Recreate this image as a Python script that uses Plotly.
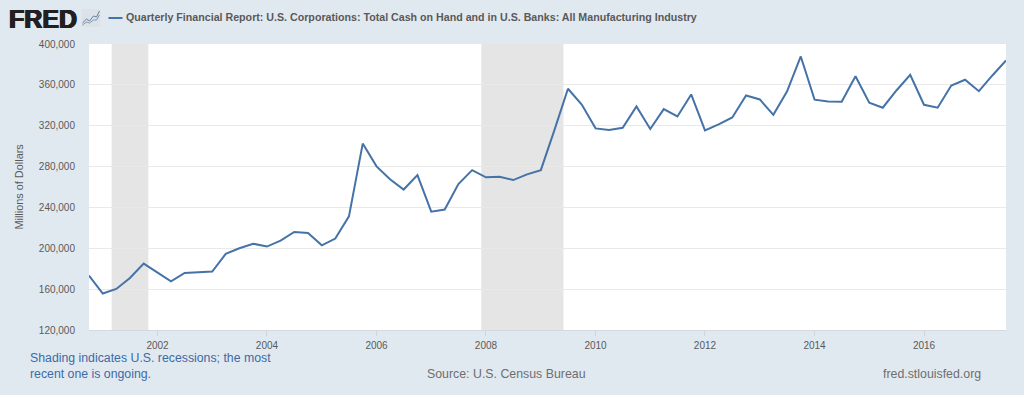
import plotly.graph_objects as go
import pandas as pd

W, H = 1024, 395
L, R, T, B = 88.5, 1006.5, 44, 330

quarters = pd.date_range("2000-10-01", periods=68, freq="QS").strftime("%Y-%m-%d").tolist()
cash = [173300, 155700, 160200, 171000, 185000, 176500, 167700, 175900, 176900, 177200,
        194500, 200000, 204500, 201700, 207500, 216000, 215000, 202900, 209500, 231300,
        302500, 280200, 267500, 257500, 271700, 235900, 237900, 262900, 276500, 269500,
        270100, 266800, 272400, 276500, 315500, 356200, 340800, 317400, 315700, 318000,
        338900, 316800, 336300, 329100, 350600, 315500, 321300, 328100, 349600, 345700,
        330700, 353500, 387800, 345500, 343800, 343500, 368500, 342500, 337600, 354500,
        369900, 340500, 337600, 359400, 365000, 353800, 369200, 383900]
recessions = [("2001-03-01", "2001-11-01"), ("2007-12-01", "2009-06-01")]
x_ticks = ["2002-01-01", "2004-01-01", "2006-01-01", "2008-01-01",
           "2010-01-01", "2012-01-01", "2014-01-01", "2016-01-01"]
x_labels = ["2002", "2004", "2006", "2008", "2010", "2012", "2014", "2016"]
y_ticks = [120000, 160000, 200000, 240000, 280000, 320000, 360000, 400000]
series_name = "Quarterly Financial Report: U.S. Corporations: Total Cash on Hand and in U.S. Banks: All Manufacturing Industry"

BG = "#e1e9f0"
BLUE = "#4572a7"
FONT = "Liberation Sans"

def px(x): return (x - L) / (R - L)
def py(y): return (B - y) / (B - T)

fig = go.Figure(go.Scatter(x=quarters, y=cash, mode="lines", name=series_name,
                           line=dict(color=BLUE, width=2), hoverinfo="x+y"))

shapes = [dict(type="rect", xref="x", yref="paper", x0=a, x1=b, y0=0, y1=1,
               fillcolor="#e5e5e5", line_width=0, layer="below") for a, b in recessions]
# legend sample
shapes.append(dict(type="line", xref="paper", yref="paper", x0=px(108), x1=px(122), y0=py(18), y1=py(18),
                   line=dict(color=BLUE, width=2)))
# logo icon
shapes.append(dict(type="rect", xref="paper", yref="paper", x0=px(81), x1=px(100), y0=py(9), y1=py(27),
                   fillcolor="#dde2e8", line_width=0))
def path(pts):
    return "M " + " L ".join(f"{px(a):.5f},{py(b):.5f}" for a, b in pts)
shapes.append(dict(type="path", xref="paper", yref="paper",
                   path=path([(82, 23), (86, 19), (89, 21), (93, 16), (96, 17), (99, 11)]),
                   line=dict(color="#5f7fa8", width=1)))
shapes.append(dict(type="path", xref="paper", yref="paper",
                   path=path([(82, 25), (86, 22), (89, 23), (93, 20), (96, 20), (99, 15)]),
                   line=dict(color="#7f94ad", width=1)))

def note(text, x, y, size, color, anchor="left", bold=False, family=FONT, shadow=None, **kw):
    font = dict(family=family, size=size, color=color)
    if shadow:
        font["shadow"] = shadow
    return dict(text=f"<b>{text}</b>" if bold else text, x=px(x), y=py(y), xref="paper", yref="paper",
                xanchor=anchor, yanchor="middle", showarrow=False, borderpad=0, borderwidth=0,
                font=font, **kw)

annotations = [
    note("FRED", 8, 18.5, 25, "#231f20", bold=True,
         shadow="0.7px 0 0 #231f20, -0.7px 0 0 #231f20, 0 0.4px 0 #231f20, 0 -0.4px 0 #231f20"),
    note(series_name, 126, 17.5, 10.67, "#595959", bold=True),
    note("Shading indicates U.S. recessions; the most<br>recent one is ongoing.", 29, 366, 12.3, "#3d6aa7", align="left"),
    note("Source: U.S. Census Bureau", 427, 373.5, 12.35, "#6e6e6e"),
    note("fred.stlouisfed.org", 981, 373.5, 12.35, "#6e6e6e", anchor="right"),
    note("Millions of Dollars", 17.5, 186.5, 10.9, "#595959", anchor="center", textangle=-90),
]

fig.update_layout(
    width=W, height=H, autosize=False,
    margin=dict(l=L, r=W - R, t=T, b=H - B, pad=0),
    paper_bgcolor=BG, plot_bgcolor="#ffffff",
    showlegend=False, shapes=shapes, annotations=annotations,
    font=dict(family=FONT, size=10, color="#595959"),
    xaxis=dict(type="date", range=[quarters[0], quarters[-1]], tickmode="array",
               tickvals=x_ticks, ticktext=x_labels, showgrid=False,
               ticks="outside", ticklen=5, tickcolor="#d0d5da", tickwidth=1,
               showline=True, linecolor="#d4d9de", linewidth=1, zeroline=False, ticklabelstandoff=1,
               tickfont=dict(family=FONT, size=10, color="#595959")),
    yaxis=dict(range=[120000, 400000], tickmode="array", tickvals=y_ticks,
               ticktext=[f"{v:,}" for v in y_ticks], showgrid=True, gridcolor="#e9e9e9", gridwidth=1,
               zeroline=False, showline=False, ticks="", ticklabelstandoff=13,
               tickfont=dict(family=FONT, size=10, color="#595959")),
)

fig.write_html("out.html", config=dict(displayModeBar=False),
               post_script="document.body.style.margin='0';document.body.style.background='#e1e9f0';document.body.style.overflow='hidden';")
